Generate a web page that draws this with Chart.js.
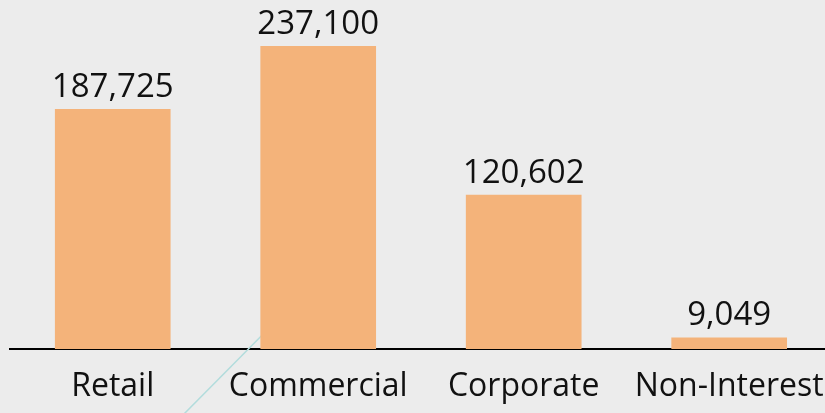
<!DOCTYPE html>
<html>
<head>
<meta charset="utf-8">
<script src="https://cdn.jsdelivr.net/npm/chart.js@4.4.1/dist/chart.umd.min.js"></script>
<style>
  html, body { margin: 0; padding: 0; background: #ececec; overflow: hidden; }
  #chart { display: block; }
</style>
</head>
<body>
<canvas id="chart" width="853" height="413"></canvas>
<script>
const categories = ['Retail', 'Commercial', 'Corporate', 'Non-Interest'];
const amounts = [187725, 237100, 120602, 9049];
const yMax = 273000;

const fontFamily = '"Open Sans", "Noto Sans", sans-serif';

// thin teal accent stroke running under the second bar
const accentLine = {
  id: 'accentLine',
  beforeDatasetsDraw(chart) {
    const ctx = chart.ctx;
    ctx.save();
    ctx.strokeStyle = '#b2dcdc';
    ctx.lineWidth = 1.5;
    ctx.beginPath();
    ctx.moveTo(292, 305);
    ctx.lineTo(181, 417);
    ctx.stroke();
    ctx.restore();
  }
};

// value labels sitting above each bar
const valueLabels = {
  id: 'valueLabels',
  afterDatasetsDraw(chart) {
    const ctx = chart.ctx;
    const meta = chart.getDatasetMeta(0);
    ctx.save();
    ctx.fillStyle = '#111';
    ctx.font = '33px ' + fontFamily;
    ctx.textAlign = 'center';
    ctx.textBaseline = 'alphabetic';
    meta.data.forEach((bar, i) => {
      ctx.fillText(amounts[i].toLocaleString('en-US'), bar.x, bar.y - 12);
    });
    ctx.restore();
  }
};

const ctx = document.getElementById('chart').getContext('2d');
new Chart(ctx, {
  type: 'bar',
  data: {
    labels: categories,
    datasets: [{
      data: amounts,
      backgroundColor: '#f4b37a',
      borderWidth: 0,
      categoryPercentage: 1,
      barPercentage: 0.563
    }]
  },
  options: {
    responsive: false,
    animation: false,
    layout: { autoPadding: false, padding: { left: 10, right: 3, top: 0, bottom: 0 } },
    plugins: { legend: { display: false }, tooltip: { enabled: false } },
    scales: {
      x: {
        grid: { display: false, drawTicks: false },
        border: { display: true, color: '#000', width: 2 },
        ticks: { color: '#111', font: { family: fontFamily, size: 32, lineHeight: 0.53 }, padding: 29 },
        // fixed band below the baseline for the category names
        afterFit(scale) { scale.height = 64; }
      },
      y: {
        display: false,
        min: 0,
        max: yMax
      }
    }
  },
  plugins: [accentLine, valueLabels]
});
</script>
</body>
</html>
